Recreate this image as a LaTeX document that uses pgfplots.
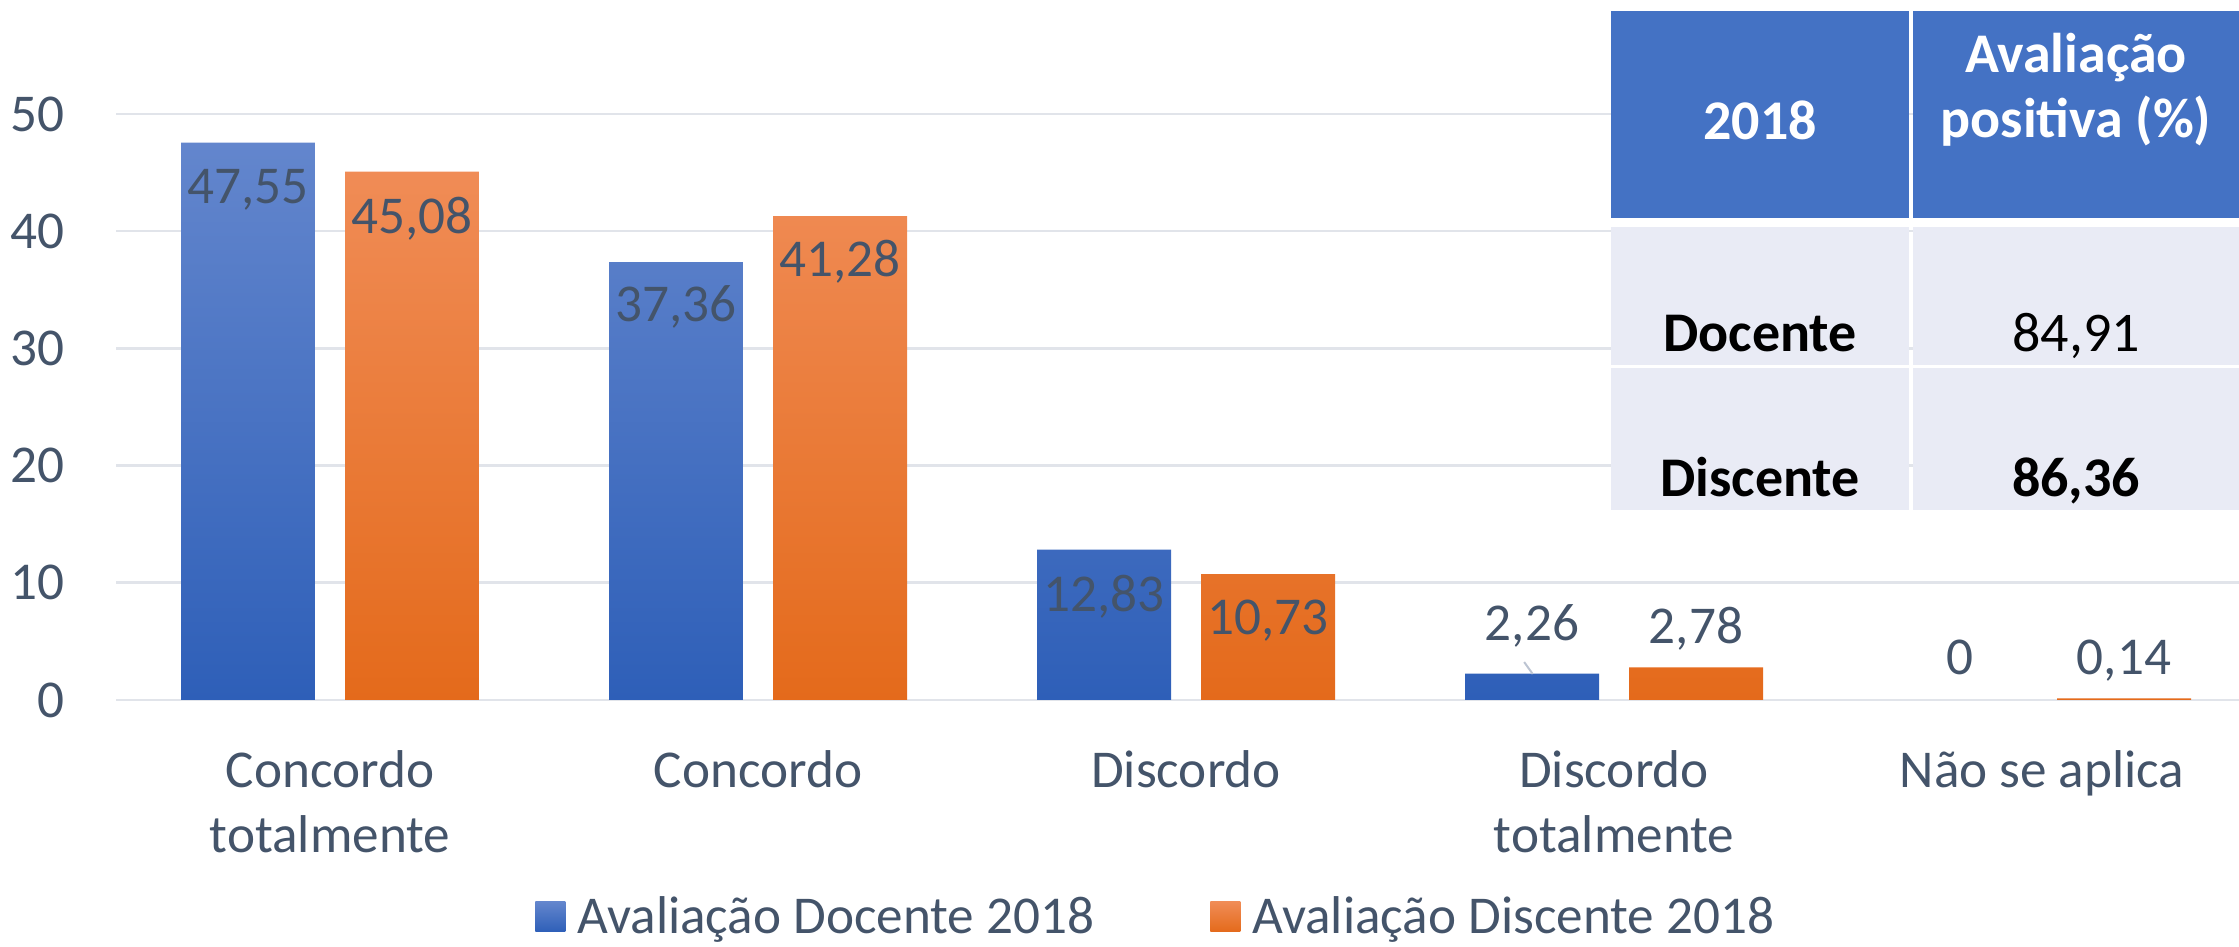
\documentclass[border=0pt]{standalone}
\usepackage{fontspec}
\setmainfont{Carlito}
\usepackage{pgfplots}
\pgfplotsset{compat=1.18}
\definecolor{txt}{HTML}{44546A}
\definecolor{gridc}{HTML}{E1E4EA}
\definecolor{blueT}{HTML}{6386CD}
\definecolor{blueB}{HTML}{2E5FB8}
\definecolor{orT}{HTML}{F08C56}
\definecolor{orB}{HTML}{E46A1B}
\definecolor{hdr}{HTML}{4472C4}
\definecolor{cellc}{HTML}{E9EBF5}
\definecolor{leader}{HTML}{BCC4D2}
\newcommand\lf{\fontsize{26.6}{32.5}\selectfont}
\newcommand\tf{\fontsize{28}{33.5}\selectfont}
\begin{document}
\begin{tikzpicture}
\begin{axis}[
  scale only axis, width=1061.5pt, height=293pt,
  xmin=-0.5, xmax=4.46, ymin=0, ymax=50,
  axis line style={draw=none},
  major tick length=0pt,
  ytick={0,10,...,50},
  ymajorgrids, grid style={gridc, line width=1.3pt},
  xtick={0,...,4},
  xticklabels={{Concordo\\totalmente},Concordo,Discordo,{Discordo\\totalmente},{Não se aplica}},
  xticklabel style={align=center, font=\lf, text=txt, inner sep=0pt, anchor=north, yshift=-25pt},
  yticklabel style={font=\lf, text=txt, inner sep=0pt, anchor=east, xshift=-25.5pt},
  /pgf/number format/assume math mode=true,
  legend columns=2,
  legend style={draw=none, fill=none, at={(0.1974,-0.3700)}, anchor=west, inner sep=0pt,
    font=\lf, text=txt, nodes={inner sep=0pt},
    /tikz/every odd column/.append style={column sep=6pt},
    /tikz/every even column/.append style={column sep=58pt}},
  clip=false,
]
\addplot[ybar, bar width=0.313, bar shift=-0.1916, draw=none, top color=blueT, bottom color=blueB,
  legend image code/.code={\shade[top color=blueT, bottom color=blueB] (0pt,-7.5pt) rectangle (15pt,7.5pt);}]
  coordinates {(0,47.55) (1,37.36) (2,12.83) (3,2.26)};
\addlegendentry{Avaliação Docente 2018}
\addplot[ybar, bar width=0.313, bar shift=0.1916, draw=none, top color=orT, bottom color=orB,
  legend image code/.code={\shade[top color=orT, bottom color=orB] (0pt,-7.5pt) rectangle (15pt,7.5pt);}]
  coordinates {(0,45.08) (1,41.28) (2,10.73) (3,2.78) (4,0.14)};
\addlegendentry{Avaliação Discente 2018}
\addplot[leader, line width=1pt, forget plot] coordinates {(2.79,3.24) (2.81,2.22)};
\addplot[draw=none, mark=none, forget plot, nodes near coords, point meta=explicit symbolic,
  nodes near coords style={anchor=center, font=\lf, text=txt, inner sep=0pt}]
  table[meta=lab] {
x y lab
-0.1916 43.5 47,55
0.1916 41.1 45,08
0.8084 33.5 37,36
1.1916 37.4 41,28
1.8084 8.8 12,83
2.1916 6.8 10,73
2.8084 6.3 2,26
3.1916 6.1 2,78
3.8084 3.6 0
4.1916 3.4 0,14
};
\end{axis}
\fill[hdr] (747.5pt,241pt) rectangle (896.5pt,344.5pt);
\fill[hdr] (898.5pt,241pt) rectangle (1061.5pt,344.5pt);
\fill[cellc] (747.5pt,167.5pt) rectangle (896.5pt,236.5pt);
\fill[cellc] (898.5pt,167.5pt) rectangle (1061.5pt,236.5pt);
\fill[cellc] (747.5pt,95pt) rectangle (896.5pt,166pt);
\fill[cellc] (898.5pt,95pt) rectangle (1061.5pt,166pt);
\node[anchor=base, text=white, font=\tf\bfseries, inner sep=0pt] at (822pt,280pt) {2018};
\node[anchor=base, text=white, font=\tf\bfseries, inner sep=0pt] at (980pt,313.5pt) {Avaliação};
\node[anchor=base, text=white, font=\tf\bfseries, inner sep=0pt] at (980pt,281pt) {positiva (\%)};
\node[anchor=base, text=black, font=\tf\bfseries, inner sep=0pt] at (822pt,174pt) {Docente};
\node[anchor=base, text=black, font=\tf, inner sep=0pt] at (980pt,174pt) {84,91};
\node[anchor=base, text=black, font=\tf\bfseries, inner sep=0pt] at (822pt,101.5pt) {Discente};
\node[anchor=base, text=black, font=\tf\bfseries, inner sep=0pt] at (980pt,101.5pt) {86,36};
\pgfresetboundingbox
\path (-58pt,-123.5pt) rectangle (1061.5pt,350pt);
\end{tikzpicture}
\end{document}
